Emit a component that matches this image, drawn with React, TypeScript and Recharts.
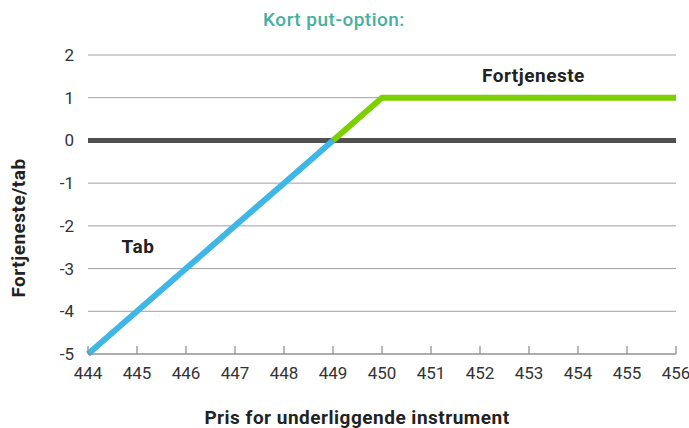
import { LineChart, Line, XAxis, YAxis, CartesianGrid, ReferenceLine, ReferenceDot } from 'recharts'

const priceTicks = [444, 445, 446, 447, 448, 449, 450, 451, 452, 453, 454, 455, 456]
const valueTicks = [-5, -4, -3, -2, -1, 0, 1, 2]

const lossPrices = [444, 445, 446, 447, 448, 449]
const lossValues = [-5, -4, -3, -2, -1, 0]
const gainPrices = [449, 450, 456]
const gainValues = [0, 1, 1]

const lossData = lossPrices.map((x, i) => ({ x, y: lossValues[i] }))
const gainData = gainPrices.map((x, i) => ({ x, y: gainValues[i] }))

const font = 'Roboto, "DejaVu Sans", sans-serif'
const boldLabel = { fontSize: 19, fontWeight: 700, fill: '#222', fontFamily: font, letterSpacing: 0.5 }

function PriceTick(props: any) {
  const { x, y, payload } = props
  return (
    <g>
      <line x1={x} x2={x} y1={y} y2={y - 8} stroke="#8a8a8a" strokeWidth={1.2} />
      <text x={x} y={y + 25} textAnchor="middle" fontSize={17} fill="#333" fontFamily={font}>
        {payload.value}
      </text>
    </g>
  )
}

export default function App() {
  return (
    <div style={{ position: 'absolute', left: 0, top: 0, width: 689, height: 428, background: '#fff', fontFamily: font }}>
      <div
        style={{
          position: 'absolute',
          top: 8,
          left: 0,
          width: 668,
          textAlign: 'center',
          color: '#46b0a0',
          fontSize: 19,
          fontWeight: 500,
          letterSpacing: 0.5,
        }}
      >
        Kort put-option:
      </div>
      <LineChart width={689} height={428} data={lossData} margin={{ top: 55, right: 13, left: 10, bottom: 0 }}>
        <CartesianGrid vertical={false} stroke="#a0a0a0" strokeWidth={1} />
        <XAxis
          type="number"
          dataKey="x"
          domain={[444, 456]}
          ticks={priceTicks}
          interval={0}
          height={74}
          axisLine={{ stroke: '#8a8a8a', strokeWidth: 1.2 }}
          tickLine={false}
          tickSize={0}
          tickMargin={0}
          tick={<PriceTick />}
          label={{
            content: () => (
              <text x={357} y={424} textAnchor="middle" {...boldLabel}>
                Pris for underliggende instrument
              </text>
            ),
          }}
        />
        <YAxis
          type="number"
          domain={[-5, 2]}
          ticks={valueTicks}
          interval={0}
          width={78}
          axisLine={false}
          tickLine={false}
          tickMargin={8}
          tick={{ fontSize: 17, fill: '#333', fontFamily: font }}
          label={{
            content: () => (
              <text transform="translate(25,228) rotate(-90)" textAnchor="middle" {...boldLabel}>
                Fortjeneste/tab
              </text>
            ),
          }}
        />
        <ReferenceLine y={0} stroke="#505050" strokeWidth={5} />
        <Line
          data={lossData}
          dataKey="y"
          stroke="#3eb6e6"
          strokeWidth={6}
          dot={false}
          isAnimationActive={false}
        />
        <Line
          data={gainData}
          dataKey="y"
          stroke="#7dd000"
          strokeWidth={6}
          dot={false}
          isAnimationActive={false}
        />
        <ReferenceDot x={453.09} y={1.52} r={0} label={{ value: 'Fortjeneste', ...boldLabel }} />
        <ReferenceDot x={445.02} y={-2.47} r={0} label={{ value: 'Tab', ...boldLabel }} />
      </LineChart>
    </div>
  )
}
